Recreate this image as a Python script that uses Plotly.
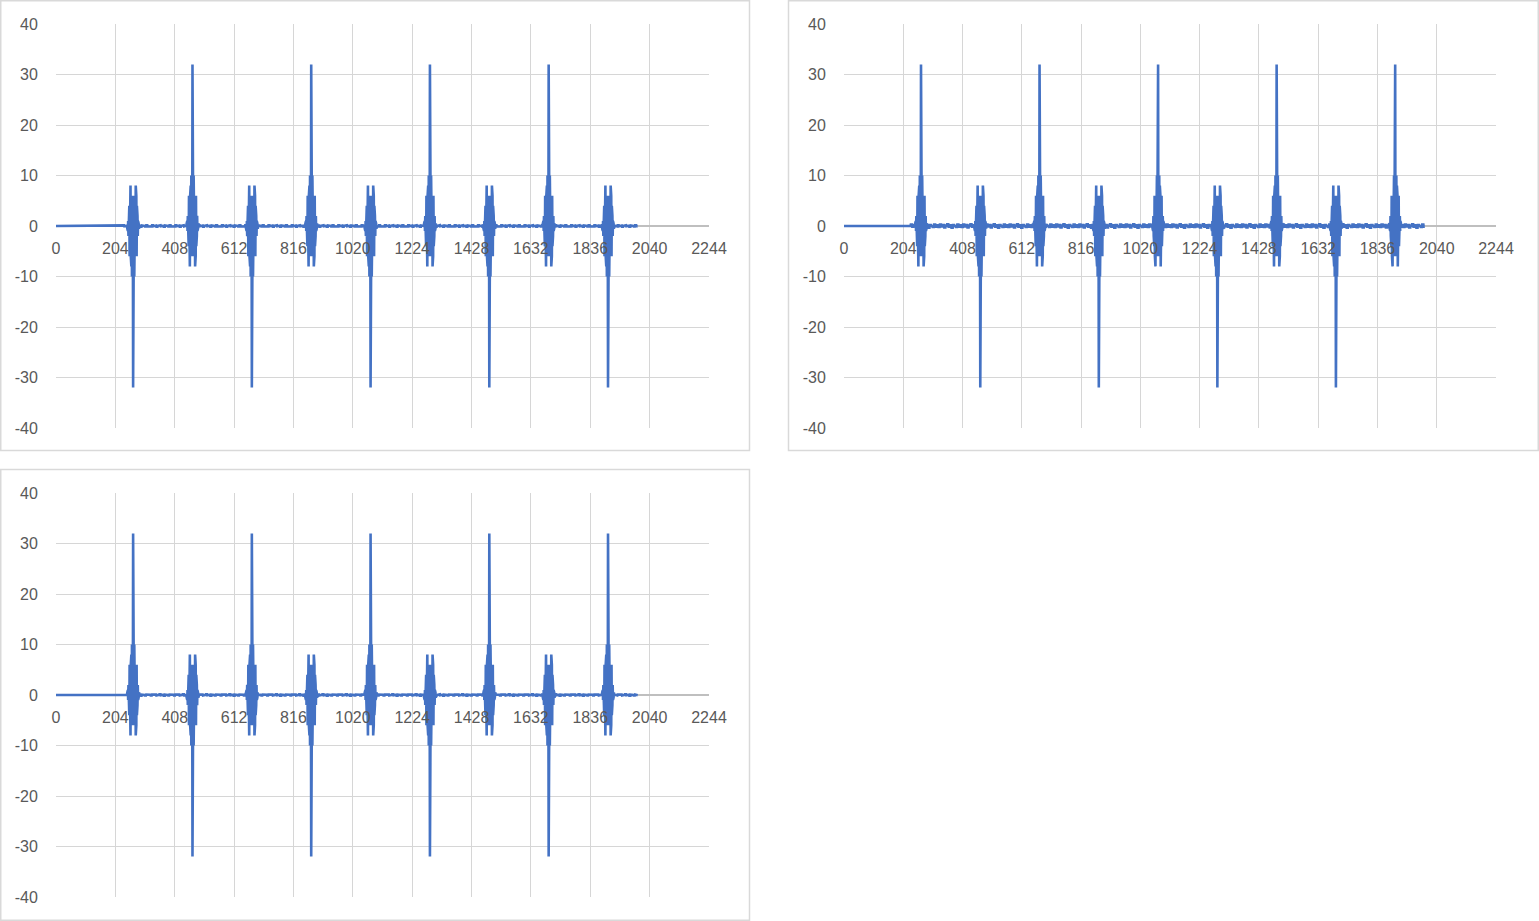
import plotly.graph_objects as go

W, H = 1539, 921

# ---- data ----
n_samples = 2000
x_tick_vals = [0, 204, 408, 612, 816, 1020, 1224, 1428, 1632, 1836, 2040, 2244]
y_tick_vals = [-40, -30, -20, -10, 0, 10, 20, 30, 40]
y_tick_text = ["-40", "-30", "-20", "-10", "0", "10", "20", "30", "40"]
burst_centers = [265, 469, 673, 877, 1081, 1285, 1489, 1693, 1897]
# one half of the (symmetric) burst waveform, offset 0..20 samples from centre
burst_half = [32, -6, 10, -6, 10, -6, 8, -6, 6, -8, 6, -6, 6, -4, 2, -2, 2, -1, 1, -0.5, 0.5]
polarity_1 = [-1, 1, -1, 1, -1, 1, -1, 1, -1]
polarity_2 = [1, -1, 1, -1, 1, -1, 1, -1, 1]
polarity_3 = [1, -1, 1, -1, 1, -1, 1, -1, 1]
ripple = [0.2, -0.3, 0.4, -0.1, 0.3, -0.4, 0.1, 0.5, -0.2, 0.2, -0.5, 0.3, 0.0, -0.3, 0.4, -0.2]
noise_amp_1 = 0.3
noise_amp_2 = 0.7
noise_amp_3 = 0.25
noise_start = 230


def build(pol, amp):
    y = [0.0] * n_samples
    for i in range(noise_start, n_samples):
        y[i] = amp * ripple[(i // 5) % len(ripple)]
    for c, p in zip(burst_centers, pol):
        for d, v in enumerate(burst_half):
            y[c + d] = p * v
            y[c - d] = p * v
    return y


xs = list(range(n_samples))
series = [build(polarity_1, noise_amp_1), build(polarity_2, noise_amp_2), build(polarity_3, noise_amp_3)]

# ---- layout (pixel boxes) ----
plot_boxes = [  # left, right, top, bottom in px
    (56, 709, 24, 428),
    (844, 1496, 24, 428),
    (56, 709, 493, 897),
]
chart_boxes = [
    (0.75, 749.5, 0.75, 450.5),
    (788.5, 1538.25, 0.75, 450.5),
    (0.75, 749.5, 469.5, 920.25),
]

fig = go.Figure()
layout = dict(
    width=W, height=H, margin=dict(l=0, r=0, t=0, b=0, pad=0, autoexpand=False),
    paper_bgcolor="white", plot_bgcolor="white", showlegend=False,
    font=dict(family="Liberation Sans", size=16, color="#595959"),
)

for k, (ys, box) in enumerate(zip(series, plot_boxes)):
    idx = "" if k == 0 else str(k + 1)
    l, r, t, b = box
    ydom = [1 - b / H, 1 - t / H]
    xdom = [l / W, r / W]
    fig.add_trace(go.Scatter(x=xs, y=ys, mode="lines",
                             line=dict(color="#4472C4", width=2.6),
                             xaxis="x" + idx, yaxis="y" + idx, hoverinfo="skip"))
    layout["xaxis" + idx] = dict(
        domain=xdom, range=[0, 2244], tickvals=x_tick_vals,
        ticktext=[str(v) for v in x_tick_vals], automargin=False,
        showgrid=True, gridcolor="#d6d6d6", gridwidth=1, zeroline=False,
        showline=False, anchor="free", position=(ydom[0] + ydom[1]) / 2,
        ticks="outside", ticklen=8, tickcolor="rgba(0,0,0,0)",
        tickfont=dict(size=16, color="#595959"), fixedrange=True,
    )
    layout["yaxis" + idx] = dict(
        domain=ydom, range=[-40, 40], tickvals=y_tick_vals, ticktext=y_tick_text,
        automargin=False,
        showgrid=True, gridcolor="#d6d6d6", gridwidth=1,
        zeroline=True, zerolinecolor="#bfbfbf", zerolinewidth=1.5,
        showline=False, anchor="x" + idx,
        ticks="outside", ticklen=14, tickcolor="rgba(0,0,0,0)",
        tickfont=dict(size=16, color="#595959"), fixedrange=True,
    )

shapes = []
for (l, r, t, b) in chart_boxes:
    shapes.append(dict(type="rect", xref="paper", yref="paper",
                       x0=l / W, x1=r / W, y0=1 - b / H, y1=1 - t / H,
                       line=dict(color="#d9d9d9", width=1.5), layer="below"))
layout["shapes"] = shapes

fig.update_layout(**layout)
page_fix = (
    "document.documentElement.style.margin='0';"
    "document.documentElement.style.overflow='hidden';"
    "document.body.style.margin='0';"
    "document.body.style.overflow='hidden';"
    "var gd=document.getElementsByClassName('plotly-graph-div')[0];"
    "gd.style.position='fixed';gd.style.left='0px';gd.style.top='0px';"
)
fig.write_html("out.html", config={"displayModeBar": False, "staticPlot": True},
               post_script=page_fix)
